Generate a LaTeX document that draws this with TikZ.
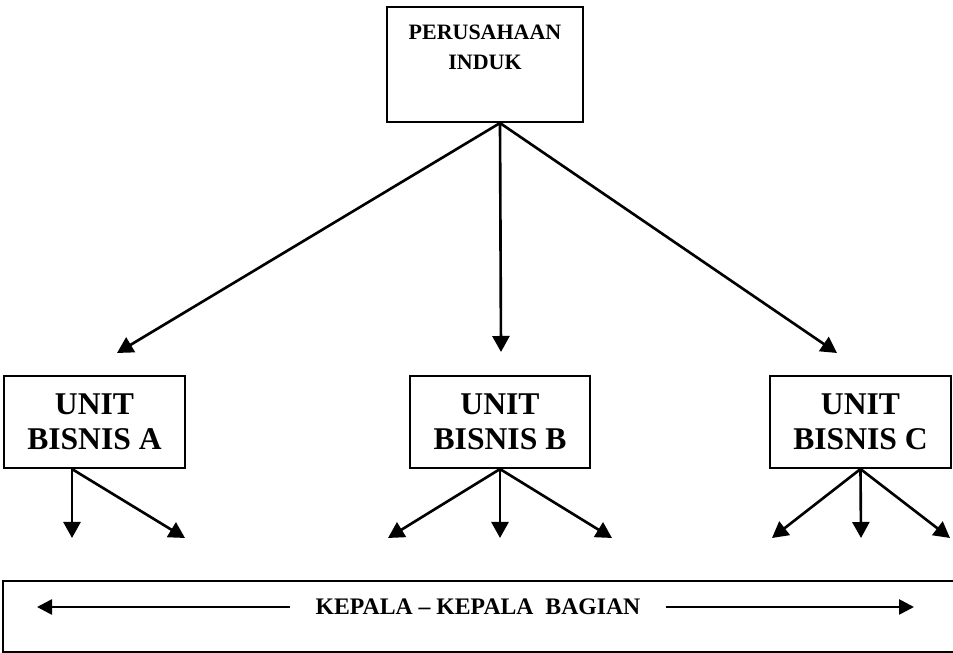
\documentclass[tikz,border=0pt]{standalone}
\usepackage{fontspec}
\setmainfont{Liberation Serif}
\usetikzlibrary{arrows.meta}

\tikzset{
  kotak/.style={draw, line width=1.2pt, inner sep=0pt, align=center},
  panah/.style={line width=1.5pt, -{Triangle[length=0.32cm, width=0.34cm]}},
}

\begin{document}
\begin{tikzpicture}
  \useasboundingbox (0,0) rectangle (19.06,13.06);

  % Parent company at the top
  \node[kotak, minimum width=3.92cm, minimum height=2.30cm,
        font=\bfseries\fontsize{12.5}{17}\selectfont] (induk) at (9.70,11.77)
        {PERUSAHAAN\\INDUK\\[2.5pt]\mbox{}};

  % The three business units
  \node[kotak, minimum width=3.62cm, minimum height=1.84cm,
        font=\bfseries\fontsize{18}{20}\selectfont] (unitA) at (1.89,4.62) {UNIT\\BISNIS A};
  \node[kotak, minimum width=3.60cm, minimum height=1.84cm,
        font=\bfseries\fontsize{18}{20}\selectfont] (unitB) at (10.00,4.62) {UNIT\\BISNIS B};
  \node[kotak, minimum width=3.62cm, minimum height=1.84cm,
        font=\bfseries\fontsize{18}{20}\selectfont] (unitC) at (17.21,4.62) {UNIT\\BISNIS C};

  % Arrow ends above the units
  \coordinate (ujungA) at (2.34,6.00);
  \coordinate (ujungB) at (10.02,6.02);
  \coordinate (ujungC) at (16.74,6.00);
  \draw[panah] ([xshift=0.30cm]induk.south) -- (ujungA);
  \draw[panah] ([xshift=0.30cm]induk.south) -- (ujungB);
  \draw[panah] ([xshift=0.30cm]induk.south) -- (ujungC);

  % Arrow ends below the units
  \coordinate (a1) at (1.44,2.30);
  \coordinate (a2) at (3.70,2.30);
  \coordinate (b1) at (7.76,2.30);
  \coordinate (b2) at (10.00,2.30);
  \coordinate (b3) at (12.24,2.30);
  \coordinate (c1) at (15.44,2.30);
  \coordinate (c2) at (17.22,2.30);
  \coordinate (c3) at (19.00,2.30);
  \draw[panah] ([xshift=-0.45cm]unitA.south) -- (a1);
  \draw[panah] ([xshift=-0.45cm]unitA.south) -- (a2);
  \foreach \k in {b1,b2,b3}
    \draw[panah] (unitB.south) -- (\k);
  \foreach \k in {c1,c2,c3}
    \draw[panah] (unitC.south) -- (\k);

  % Department heads box
  \node[kotak, minimum width=19.24cm, minimum height=1.42cm] (bagian) at (9.68,0.73) {};
  \node[font=\bfseries\fontsize{13.5}{16}\selectfont, inner xsep=0.5cm] (kepala) at (9.56,0.92)
        {KEPALA -- KEPALA\ \ BAGIAN};
  \coordinate (kiri) at (0.74,0.92);
  \coordinate (kanan) at (18.28,0.92);
  \draw[panah, -{Triangle[length=0.3cm, width=0.30cm]}] (kepala) -- (kiri);
  \draw[panah, -{Triangle[length=0.3cm, width=0.30cm]}] (kepala) -- (kanan);
\end{tikzpicture}
\end{document}
